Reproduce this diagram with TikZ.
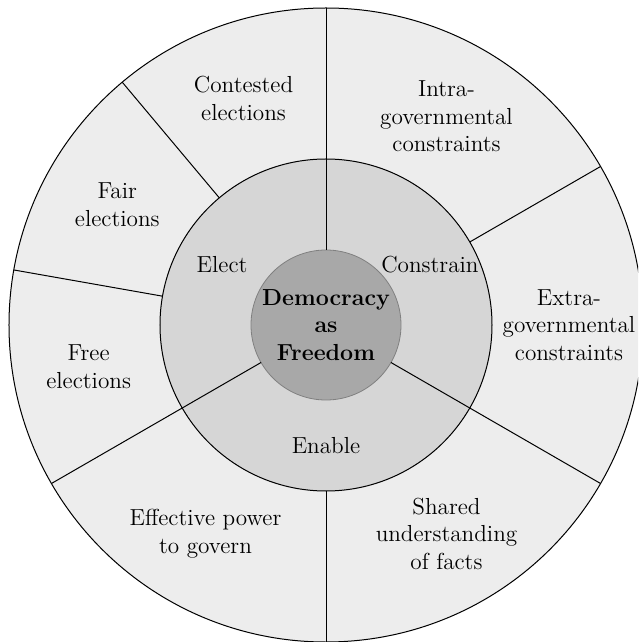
\documentclass[tikz,border=0pt]{standalone}
\usepackage{tikz}

\definecolor{ringout}{gray}{0.93}
\definecolor{ringmid}{gray}{0.84}
\definecolor{ringin}{gray}{0.66}
\tikzset{
  lbl/.style = {align = center, font = \fontsize{11.6}{13.8}\selectfont},
  spoke/.style = {line width = 0.5pt}
}

\begin{document}
\begin{tikzpicture}[x = 0.5pt, y = 0.5pt]
    \clip (-326, -317) rectangle (312, 325);
    \fill[white] (-326, -317) rectangle (312, 325);

    % rings
    \draw[line width = 0.5pt, fill = ringout] (0, 0) circle (317);
    \draw[line width = 0.5pt, fill = ringmid] (0, 0) circle (166);
    \draw[line width = 0.4pt, draw = gray, fill = ringin] (0, 0) circle (75);

    % spokes through both rings
    \draw[spoke] (90:75) -- (90:317);
    \draw[spoke] (-30:75) -- (-30:317);
    \draw[spoke] (210:75) -- (210:317);

    % spokes through the outer ring only
    \draw[spoke] (30:166) -- (30:317);
    \draw[spoke] (130:166) -- (130:317);
    \draw[spoke] (170:166) -- (170:317);
    \draw[spoke] (270:166) -- (270:317);

    \node[lbl] (core) at (0, 0) {\textbf{Democracy}\\ \textbf{as}\\ \textbf{Freedom}};

    \node[lbl] (elect) at (150:120) {Elect};
    \node[lbl] (constrain) at (30:120) {Constrain};
    \node[lbl] (enable) at (270:121) {Enable};

    \node[lbl] (contested) at (110:241) {Contested\\ elections};
    \node[lbl] (fair) at (150:241) {Fair\\ elections};
    \node[lbl] (free) at (190:241) {Free\\ elections};
    \node[lbl] (intra) at (60:241) {Intra-\\ governmental\\ constraints};
    \node[lbl] (extra) at (0:243) {Extra-\\ governmental\\ constraints};
    \node[lbl] (shared) at (-60:241) {Shared\\ understanding\\ of facts};
    \node[lbl] (effective) at (240:241) {Effective power\\ to govern};
  \end{tikzpicture}
\end{document}
